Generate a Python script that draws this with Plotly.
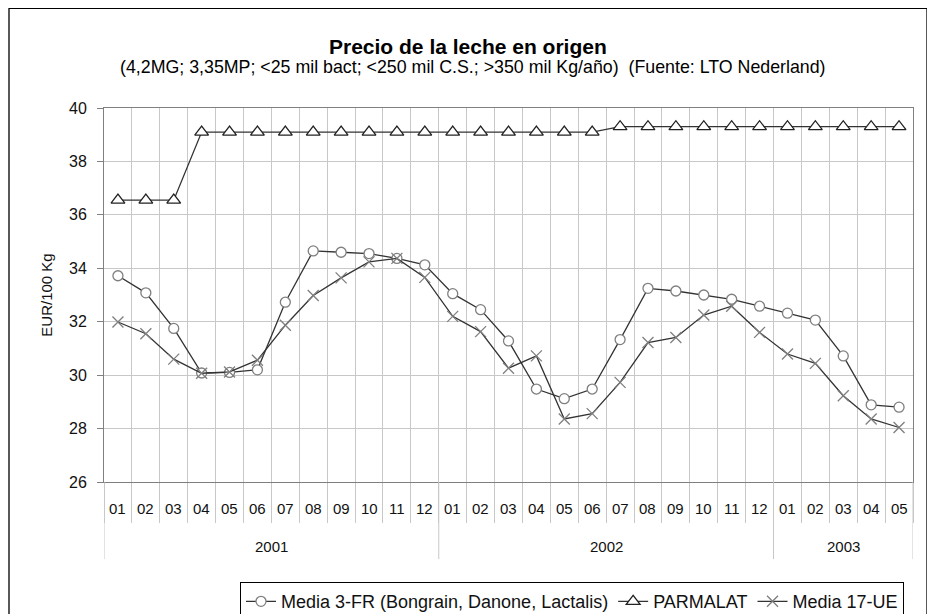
import plotly.graph_objects as go

months = ["01","02","03","04","05","06","07","08","09","10","11","12",
          "01","02","03","04","05","06","07","08","09","10","11","12",
          "01","02","03","04","05"]
years = ["2001", "2002", "2003"]
year_counts = [12, 12, 5]

media_3fr = [33.72, 33.08, 31.75, 30.08, 30.1, 30.2, 32.73, 34.65, 34.6, 34.55, 34.37, 34.13,
             33.05, 32.45, 31.28, 29.48, 29.12, 29.48, 31.33, 33.25, 33.15, 33.0, 32.84, 32.58,
             32.32, 32.06, 30.72, 28.89, 28.8]
parmalat = [36.55, 36.55, 36.55, 39.1, 39.1, 39.1, 39.1, 39.1, 39.1, 39.1, 39.1, 39.1,
            39.1, 39.1, 39.1, 39.1, 39.1, 39.1, 39.3, 39.3, 39.3, 39.3, 39.3, 39.3,
            39.3, 39.3, 39.3, 39.3, 39.3]
media_17ue = [31.99, 31.55, 30.6, 30.07, 30.12, 30.56, 31.87, 32.98, 33.64, 34.24, 34.37, 33.66,
              32.2, 31.63, 30.26, 30.72, 28.36, 28.56, 29.73, 31.22, 31.41, 32.25, 32.58, 31.6,
              30.79, 30.44, 29.23, 28.36, 28.04]

names = ["Media 3-FR (Bongrain, Danone, Lactalis)", "PARMALAT", "Media 17-UE"]

FONT = "Liberation Sans, Arial, sans-serif"
xs = list(range(len(months)))

# page pixel -> paper coordinates (plot area spans x 104..913, y 108.5..482 on the page)
def px(x):
    return (x - 104) / 809.0

def py(y):
    return (482 - y) / 373.5

fig = go.Figure()
fig.add_trace(go.Scatter(
    x=xs, y=media_3fr, name=names[0], mode="lines+markers",
    line=dict(color="#333333", width=1.3),
    marker=dict(symbol="circle", size=10, color="white",
                line=dict(color="#7f7f7f", width=1.3))))
fig.add_trace(go.Scatter(
    x=xs, y=parmalat, name=names[1], mode="lines+markers",
    line=dict(color="#333333", width=1.3),
    marker=dict(symbol="triangle-up", size=12, color="white",
                line=dict(color="#222222", width=1.3))))
fig.add_trace(go.Scatter(
    x=xs, y=media_17ue, name=names[2], mode="lines+markers",
    line=dict(color="#333333", width=1.3),
    marker=dict(symbol="x-thin", size=11, color="#7f7f7f",
                line=dict(color="#7f7f7f", width=1.3))))

annotations = []
for i, m in enumerate(months):
    annotations.append(dict(x=i, y=py(508), xref="x", yref="paper", text=m,
                            showarrow=False, font=dict(size=15, color="#111111", family=FONT),
                            xanchor="center", yanchor="middle"))
shapes = []
start = 0
for yr, cnt in zip(years, year_counts):
    annotations.append(dict(x=start + (cnt - 1) / 2, y=py(546), xref="x", yref="paper", text=yr,
                            showarrow=False, font=dict(size=15, color="#111111", family=FONT),
                            xanchor="center", yanchor="middle"))
    shapes.append(dict(type="line", xref="x", yref="paper", x0=start - 0.5, x1=start - 0.5,
                       y0=0, y1=py(559), line=dict(color="#c8c8c8", width=1)))
    start += cnt
shapes.append(dict(type="line", xref="x", yref="paper", x0=start - 0.5, x1=start - 0.5,
                   y0=0, y1=py(559), line=dict(color="#c8c8c8", width=1)))

# outer chart frame
shapes.append(dict(type="rect", xref="paper", yref="paper",
                   x0=px(9), x1=px(927), y0=py(640), y1=py(9),
                   line=dict(color="black", width=1.3), fillcolor="rgba(0,0,0,0)", layer="below"))

annotations.append(dict(x=px(467.5), y=py(47), xref="paper", yref="paper",
                        text="<b>Precio de la leche en origen</b>", showarrow=False,
                        font=dict(size=21, color="black", family=FONT),
                        xanchor="center", yanchor="middle"))
annotations.append(dict(x=px(473), y=py(68), xref="paper", yref="paper",
                        text="(4,2MG; 3,35MP; <25 mil bact; <250 mil C.S.; >350 mil Kg/año)  (Fuente: LTO Nederland)",
                        showarrow=False, font=dict(size=17.8, color="black", family=FONT),
                        xanchor="center", yanchor="middle"))

fig.update_layout(
    width=935, height=614,
    margin=dict(l=96, r=30, t=100, b=140, autoexpand=False),
    paper_bgcolor="white", plot_bgcolor="white",
    font=dict(family=FONT, size=15, color="#111111"),
    showlegend=True,
    legend=dict(orientation="h", x=px(240), y=py(582),
                xanchor="left", yanchor="top",
                bordercolor="black", borderwidth=1, bgcolor="white",
                font=dict(size=18, color="#111111", family=FONT),
                itemwidth=30, tracegroupgap=0),
    xaxis=dict(range=[-0.5, len(months) - 0.5], tickmode="array",
               tickvals=[i - 0.5 for i in range(len(months) + 1)],
               showticklabels=False, showgrid=True, gridcolor="#c8c8c8", gridwidth=1,
               ticks="outside", ticklen=40, tickcolor="#c8c8c8", tickwidth=1,
               showline=True, linecolor="#808080", linewidth=1, mirror=True,
               zeroline=False, fixedrange=True),
    yaxis=dict(range=[26, 40], tickmode="array", tickvals=list(range(26, 41, 2)),
               showgrid=True, gridcolor="#c8c8c8", gridwidth=1,
               ticks="outside", ticklen=6, tickcolor="#808080", ticklabelstandoff=7,
               showline=True, linecolor="#808080", linewidth=1, mirror=True,
               zeroline=False, tickfont=dict(size=16, color="#111111"),
               title=dict(text="EUR/100 Kg", font=dict(size=15, color="#111111"), standoff=12)),
    annotations=annotations, shapes=shapes,
)

fig.write_html("out.html")
